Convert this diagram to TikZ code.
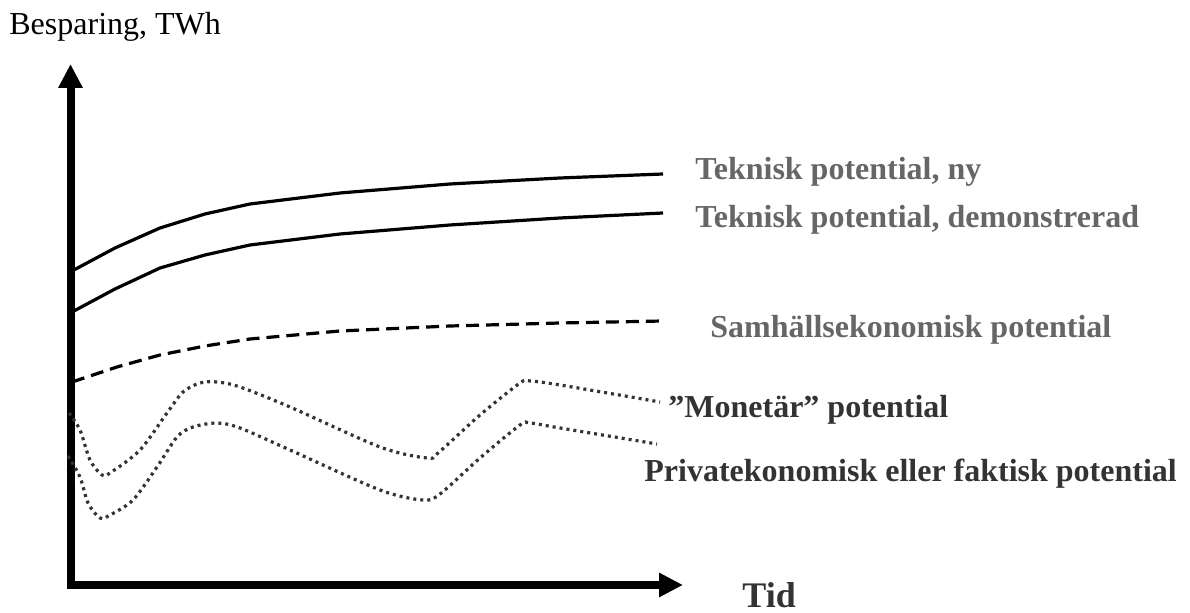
\documentclass[tikz,border=0pt]{standalone}
\usepackage{fontspec}
\setmainfont{Liberation Serif}
\usepackage{tikz}
\usetikzlibrary{arrows.meta}
\definecolor{labelgray}{HTML}{666666}
\definecolor{labeldark}{HTML}{333333}

\begin{document}
\begin{tikzpicture}[x=0.5pt,y=-0.5pt,
    axistip/.tip={Triangle[width=11.5pt,length=12pt]},
    axis/.style={line width=4pt,line join=miter,axistip-axistip},
    solidpot/.style={line width=1.6pt},
    dashpot/.style={line width=1.6pt,dash pattern=on 6.5pt off 3.5pt},
    dotpot/.style={labeldark,line width=1.6pt,dash pattern=on 1.5pt off 2pt},
    lbl/.style={inner sep=0pt,anchor=base west,font=\fontsize{16}{19}\selectfont\bfseries}]
\useasboundingbox (0,0) rectangle (1190,613);

% axes
\coordinate (ytip) at (70.5,64);
\coordinate (origin) at (70.5,585);
\coordinate (xtip) at (683,585);
\draw[axis] (ytip) -- (origin) -- (xtip);
\node[inner sep=0pt,anchor=base west,font=\fontsize{16}{19}\selectfont] (ylabel) at (9,35) {Besparing, TWh};
\node[lbl,labeldark,font=\fontsize{18}{21}\selectfont\bfseries] (xlabel) at (742,608) {Tid};

% potentials
\draw[solidpot] plot coordinates {(72,271) (115,248) (160,228) (205,214) (250,204) (340,193) (450,184) (560,178) (663,174)};
\draw[solidpot] plot coordinates {(72,312) (115,289) (160,268) (205,255) (250,245) (340,234) (450,225) (560,218) (663,213)};
\draw[dashpot] plot coordinates {(72,382) (117,367) (160,355) (205,346) (250,339) (340,331) (450,326) (560,323) (663,321)};
\draw[dotpot] plot[smooth,tension=0.5] coordinates {(69,413) (80,430) (90,460) (102,475) (110,473) (140,450) (167,413)
    (183,392) (200,383) (217,382) (240,387) (290,407) (380,447) (427,458) (438,453) (480,415) (520,383) (530,381)
    (560,385) (660,402)};
\draw[dotpot] plot[smooth,tension=0.5] coordinates {(68,456) (80,477) (88,503) (100,518) (110,515) (133,500) (157,467)
    (177,437) (193,427) (217,423) (240,428) (290,450) (380,490) (423,500) (440,494) (480,458) (520,425) (530,423)
    (560,428) (657,444)};

% labels
\node[lbl,labelgray] (ny) at (695,180) {Teknisk potential, ny};
\node[lbl,labelgray] (demo) at (695,228) {Teknisk potential, demonstrerad};
\node[lbl,labelgray] (samh) at (710,338) {Samhällsekonomisk potential};
\node[lbl,labeldark] (monet) at (668,418) {”Monetär” potential};
\node[lbl,labeldark] (priv) at (644,482) {Privatekonomisk eller faktisk potential};
\end{tikzpicture}
\end{document}
